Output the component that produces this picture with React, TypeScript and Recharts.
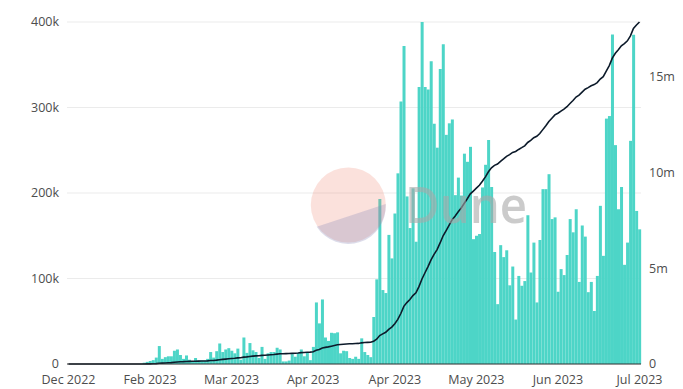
import React from 'react';
import { ComposedChart, Bar, Line, XAxis, YAxis, CartesianGrid } from 'recharts';

// Daily values (in thousands), one per day-category
const dailyThousands: number[] = [
  0, 0, 0, 0, 0, 0, 0, 0, 0, 0,
  0, 0, 0, 0, 0, 0, 0, 0, 0, 0,
  0, 0, 0, 0, 0, 1.5, 2.5, 3.5, 4.5, 7.5,
  21, 6, 8, 9, 9, 15.5, 17, 10.5, 6, 10,
  5, 3, 7, 4, 4, 4, 6, 14, 7.5, 15,
  24, 14, 17, 18.5, 15.5, 12.5, 18, 5, 31, 13,
  24.5, 16, 14, 7, 20, 6, 12.5, 14, 14, 19,
  17, 3, 3, 4, 11.5, 8.5, 13, 17, 9, 13,
  4.5, 20, 72, 47.5, 75.5, 31, 27, 36.5, 36, 37,
  12.5, 15.5, 15, 7, 6, 8.5, 6, 30, 14, 10.5,
  8, 55, 99, 193, 86.5, 83, 151, 123.5, 176, 223,
  307, 372, 196, 159, 205.5, 143, 324, 400, 324, 321,
  354, 281, 253, 345, 374, 268, 281.5, 286, 197.5, 218,
  197, 246, 236.5, 254, 146, 150, 152, 206.5, 233, 262,
  207, 131, 70, 139, 125, 133, 92, 114, 52, 103,
  91.5, 97, 174, 107, 142, 72, 145, 204.5, 204.5, 222,
  169.5, 171.5, 84.5, 111, 104, 127.5, 169.5, 154, 181, 96,
  162, 149, 84, 96, 62, 103, 185, 126.5, 287, 290,
  385.5, 256, 181, 207, 116, 142, 261, 385, 179, 157.5,
];

// X-axis tick positions (category indices) and their labels
const xTickIndices: number[] = [0, 27, 54, 81, 108, 135, 162, 189];
const xTickLabels: string[] = ['Dec 2022', 'Feb 2023', 'Mar 2023', 'Apr 2023', 'Apr 2023', 'May 2023', 'Jun 2023', 'Jul 2023'];

const leftTicks: number[] = [0, 100000, 200000, 300000, 400000];
const leftTickLabels: string[] = ['0', '100k', '200k', '300k', '400k'];
const rightTicks: number[] = [0, 5000000, 10000000, 15000000];
const rightTickLabels: string[] = ['0', '5m', '10m', '15m'];

// The line is the cumulative total of the daily bars (running sum)
let runningTotal = 0;
const data = dailyThousands.map((k, i) => {
  runningTotal += k * 1000;
  return { i, daily: k * 1000, cumulative: runningTotal };
});

const FONT = '"Open Sans", "Noto Sans", sans-serif';
const TICK_STYLE = { fill: '#4d4d4d', fontSize: 12.5, fontFamily: FONT };

export default function App() {
  return (
    <div style={{ position: 'absolute', left: 0, top: 0, width: 683, height: 389, background: '#fff' }}>
      <ComposedChart
        width={683}
        height={389}
        data={data}
        margin={{ top: 22, right: 0, bottom: 0, left: 0 }}
        barCategoryGap="6%"
      >
        <CartesianGrid yAxisId="left" vertical={false} stroke="#ebebeb" />
        <XAxis
          dataKey="i"
          ticks={xTickIndices}
          interval={0}
          tickFormatter={(v: number) => xTickLabels[xTickIndices.indexOf(v)] ?? ''}
          height={25}
          tickLine={false}
          axisLine={{ stroke: '#333', strokeWidth: 1 }}
          tick={TICK_STYLE}
          tickMargin={5}
        />
        <YAxis
          yAxisId="left"
          orientation="left"
          width={67}
          domain={[0, 400000]}
          ticks={leftTicks}
          interval={0}
          tickFormatter={(v: number) => leftTickLabels[leftTicks.indexOf(v)] ?? ''}
          axisLine={false}
          tickLine={false}
          tick={TICK_STYLE}
        />
        <YAxis
          yAxisId="right"
          orientation="right"
          width={42}
          domain={[0, 'dataMax']}
          ticks={rightTicks}
          interval={0}
          tickFormatter={(v: number) => rightTickLabels[rightTicks.indexOf(v)] ?? ''}
          axisLine={false}
          tickLine={false}
          tick={TICK_STYLE}
        />
        <Bar yAxisId="left" dataKey="daily" fill="#4dd5c7" isAnimationActive={false} />
        <Line
          yAxisId="right"
          dataKey="cumulative"
          type="linear"
          stroke="#0c1a2a"
          strokeWidth={1.6}
          dot={false}
          isAnimationActive={false}
        />
      </ComposedChart>
      <svg
        width={683}
        height={389}
        style={{ position: 'absolute', left: 0, top: 0, pointerEvents: 'none' }}
      >
        <circle cx={348.3} cy={205} r={37.5} fill="#f0826b" fillOpacity={0.24} />
        <path d="M 385.7 204 A 37.5 37.5 0 0 1 316.7 226.7 Z" fill="#8a8ab8" fillOpacity={0.3} />
        <text
          x={405}
          y={223}
          fontFamily={FONT}
          fontWeight={600}
          fontSize={50}
          textLength={122}
          lengthAdjust="spacingAndGlyphs"
          fill="#a8a8a8"
          fillOpacity={0.6}
        >
          Dune
        </text>
      </svg>
    </div>
  );
}
